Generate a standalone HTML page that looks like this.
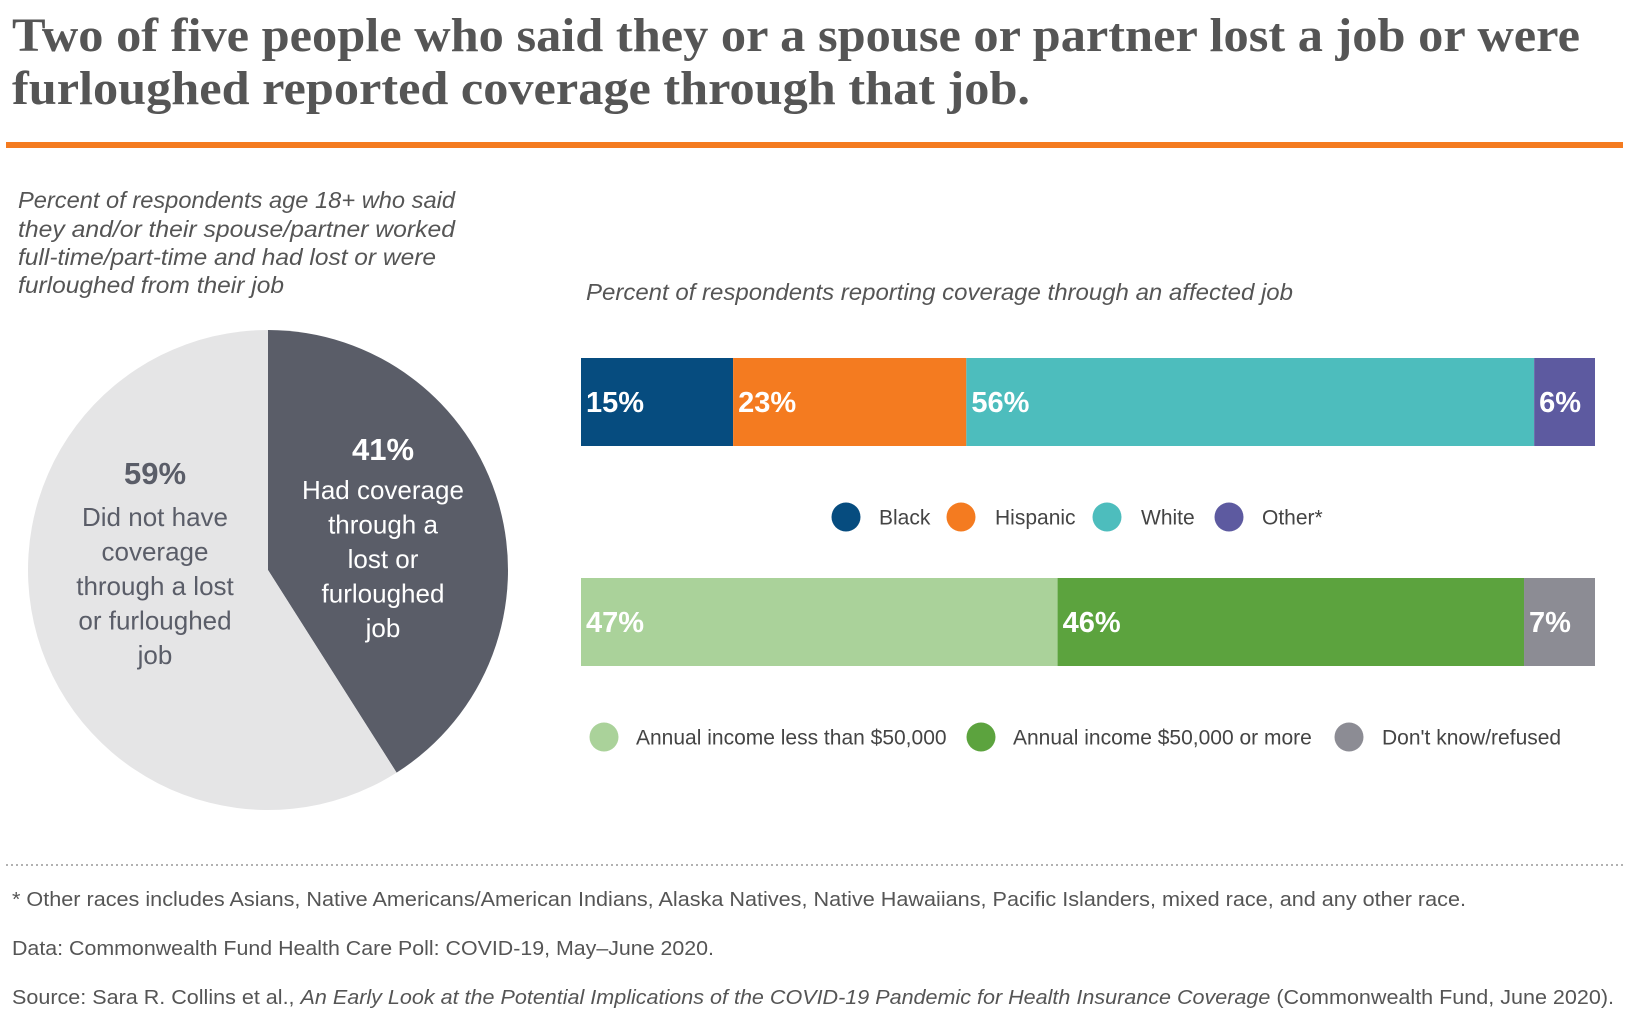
<!DOCTYPE html>
<html><head><meta charset="utf-8"><style>
html,body{margin:0;padding:0;background:#fff;}
svg{display:block;font-family:"Liberation Sans",sans-serif;}
</style></head><body>
<svg id="chart" width="1630" height="1030" viewBox="0 0 1630 1030">
<g font-family="Liberation Serif, serif" font-weight="bold" font-size="48" fill="#555">
<text x="12" y="51" textLength="1568" lengthAdjust="spacingAndGlyphs">Two of five people who said they or a spouse or partner lost a job or were</text>
<text x="12" y="104" textLength="1018" lengthAdjust="spacingAndGlyphs">furloughed reported coverage through that job.</text>
</g>
<rect x="6" y="142" width="1617" height="6" fill="#f47b20"/>
<g font-style="italic" font-size="23" fill="#555">
<text x="18" y="208" textLength="437" lengthAdjust="spacingAndGlyphs">Percent of respondents age 18+ who said</text>
<text x="18" y="237" textLength="437" lengthAdjust="spacingAndGlyphs">they and/or their spouse/partner worked</text>
<text x="18" y="265" textLength="418" lengthAdjust="spacingAndGlyphs">full-time/part-time and had lost or were</text>
<text x="18" y="293" textLength="266" lengthAdjust="spacingAndGlyphs">furloughed from their job</text>
</g>
<g id="pie"></g>
<text x="586" y="300" font-style="italic" font-size="23" fill="#555" textLength="707" lengthAdjust="spacingAndGlyphs">Percent of respondents reporting coverage through an affected job</text>
<g id="bars"></g>
<line x1="6" y1="865" x2="1623" y2="865" stroke="#999" stroke-width="1.5" stroke-dasharray="2,3"/>
<g font-size="20" fill="#555">
<text x="12" y="906" textLength="1454" lengthAdjust="spacingAndGlyphs">* Other races includes Asians, Native Americans/American Indians, Alaska Natives, Native Hawaiians, Pacific Islanders, mixed race, and any other race.</text>
<text x="12" y="955" textLength="702" lengthAdjust="spacingAndGlyphs">Data: Commonwealth Fund Health Care Poll: COVID-19, May–June 2020.</text>
<text x="12" y="1004" textLength="1602" lengthAdjust="spacingAndGlyphs">Source: Sara R. Collins et al., <tspan font-style="italic">An Early Look at the Potential Implications of the COVID-19 Pandemic for Health Insurance Coverage</tspan> (Commonwealth Fund, June 2020).</text>
</g>
</svg>
<script>
const pieValues = [41, 59];
const pieLabels = ["41%", "59%"];
const raceCategories = ["Black", "Hispanic", "White", "Other*"];
const raceValues = [15, 23, 56, 6];
const incomeCategories = ["Annual income less than $50,000", "Annual income $50,000 or more", "Don't know/refused"];
const incomeValues = [47, 46, 7];

const NS = "http://www.w3.org/2000/svg";
function mk(tag, attrs, parent){const e=document.createElementNS(NS,tag);for(const k in attrs)e.setAttribute(k,attrs[k]);parent.appendChild(e);return e;}

// Pie
const pie = document.getElementById('pie');
const cx=268, cy=570, r=240;
const pieColors=["#5a5d68","#e5e5e6"];
const total = pieValues.reduce((a,b)=>a+b,0);
let ang = -Math.PI/2;
pieValues.forEach((v,i)=>{
  const a2 = ang + v/total*2*Math.PI;
  const x1=cx+r*Math.cos(ang), y1=cy+r*Math.sin(ang), x2=cx+r*Math.cos(a2), y2=cy+r*Math.sin(a2);
  const large = (a2-ang)>Math.PI?1:0;
  const p = mk('path',{d:`M${cx},${cy} L${x1},${y1} A${r},${r} 0 ${large} 1 ${x2},${y2} Z`,fill:pieColors[i]},pie);
  
  
  ang = a2;
});
const pieText=[
  {x:383,y:460,pct:pieLabels[0],fill:"#fff",lines:["Had coverage","through a","lost or","furloughed","job"],y0:499},
  {x:155,y:484,pct:pieLabels[1],fill:"#5a5d68",lines:["Did not have","coverage","through a lost","or furloughed","job"],y0:526}
];
pieText.forEach((t,i)=>{
  const pt=mk('text',{x:t.x,y:t.y,'text-anchor':'middle','font-size':31,'font-weight':'bold',fill:t.fill},pie);
  pt.textContent=t.pct;
  
  
  t.lines.forEach((l,j)=>{
    const lt=mk('text',{x:t.x,y:t.y0+j*34.5,'text-anchor':'middle','font-size':26,fill:t.fill},pie);
    lt.textContent=l;
    
    
  });
});

// Bars
const bars=document.getElementById('bars');
const bx0=581, bx1=1595;
function xScale(v){return bx0+(bx1-bx0)*v/100;}
function stacked(values,cats,colors,y,h,namePrefix){
  let cum=0;
  values.forEach((v,i)=>{
    const xa=xScale(cum), xb=xScale(cum+v);
    const rc=mk('rect',{x:xa,y:y,width:xb-xa,height:h,fill:colors[i]},bars);
    
    
    const tx=mk('text',{x:xa+5,y:y+h/2+10,'font-size':29,'font-weight':'bold',fill:'#fff'},bars);
    tx.textContent=v+'%';
    
    
    cum+=v;
  });
}
const raceColors=["#064c7f","#f47b20","#4dbdbd","#5d5aa0"];
const incomeColors=["#aad29a","#5ca33e","#8c8c94"];
stacked(raceValues,raceCategories,raceColors,358,88,'race');
stacked(incomeValues,incomeCategories,incomeColors,578,88,'income');

function legend(cats,colors,cxs,lxs,y,prefix){
  cats.forEach((c,i)=>{
    const ci=mk('circle',{cx:cxs[i],cy:y,r:14.5,fill:colors[i]},bars);
    
    
    const t=mk('text',{x:lxs[i],y:y+7.5,'font-size':21,fill:'#444'},bars);
    t.textContent=c;
    
    
  });
}
legend(raceCategories,raceColors,[846,961,1107,1229],[879,995,1141,1262],517,'race');
legend(incomeCategories,incomeColors,[604,981,1349],[636,1013,1382],737,'income');
</script>
</body></html>
